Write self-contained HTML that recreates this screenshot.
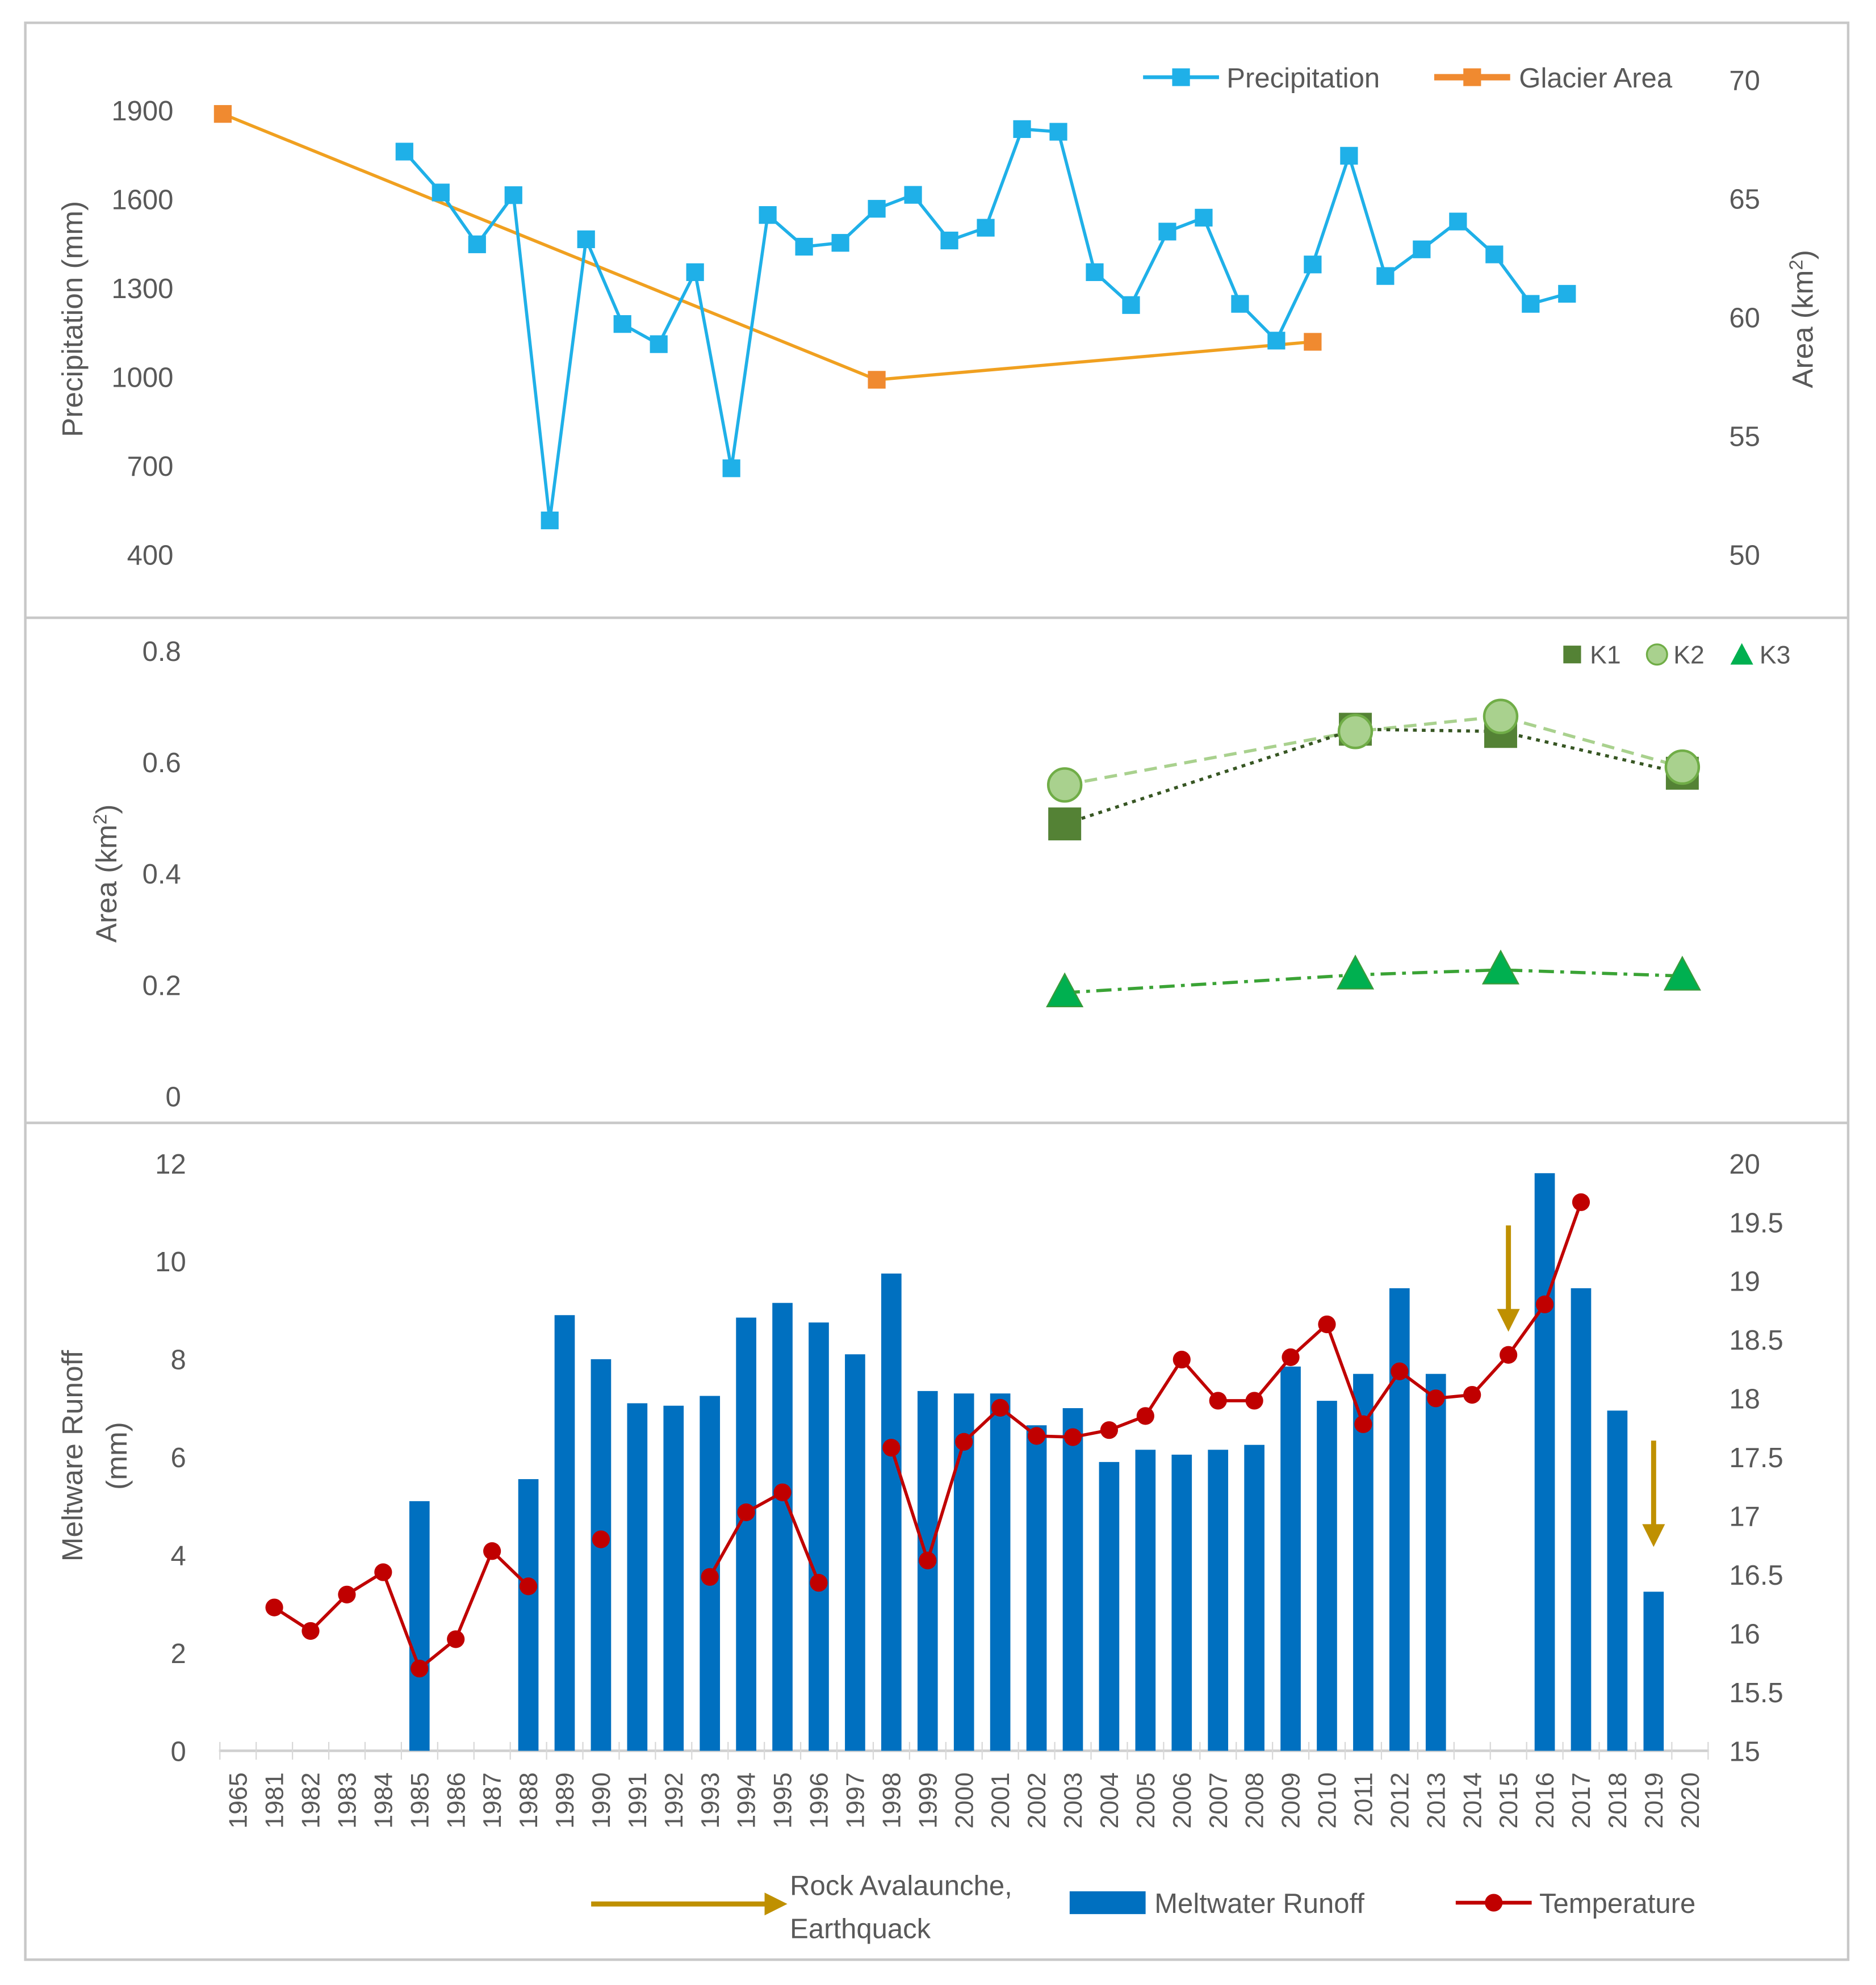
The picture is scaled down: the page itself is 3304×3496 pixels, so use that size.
<!DOCTYPE html>
<html><head><meta charset="utf-8"><style>
html,body{margin:0;padding:0;background:#fff;}
svg{display:block;font-family:"Liberation Sans",sans-serif;}
</style></head><body>
<svg id="chart" width="3304" height="3496" viewBox="0 0 1482 1568" preserveAspectRatio="none" xmlns="http://www.w3.org/2000/svg">
<rect x="20" y="18" width="1440" height="1530" fill="#fff" stroke="#c8c8c8" stroke-width="2"/>
<line x1="20" y1="488" x2="1460" y2="488" stroke="#c8c8c8" stroke-width="2"/>
<line x1="20" y1="887" x2="1460" y2="887" stroke="#c8c8c8" stroke-width="2"/>
<g id="panelTop"></g>
<g id="panelMid"></g>
<g id="panelBot"></g>
</svg>
<script>
// ---------- data ----------
const years = ['1965','1981','1982','1983','1984','1985','1986','1987','1988','1989','1990','1991','1992','1993','1994','1995','1996','1997','1998','1999','2000','2001','2002','2003','2004','2005','2006','2007','2008','2009','2010','2011','2012','2013','2014','2015','2016','2017','2018','2019','2020'];
const precipitation = [null,null,null,null,null,1760,1622,1447,1613,515,1464,1178,1110,1353,691,1546,1439,1452,1567,1614,1460,1503,1836,1827,1353,1242,1490,1537,1246,1122,1379,1746,1340,1430,1524,1413,1246,1280,null,null,null];
const glacierYears = ['1965','1998','2010'];
const glacierArea = [68.56,57.36,58.96];
const precipTicks = [400,700,1000,1300,1600,1900];
const areaTicks = [50,55,60,65,70];
const kYears = ['2003','2011','2015','2020'];
const k1 = [0.489,0.659,0.655,0.58];
const k2 = [0.559,0.655,0.682,0.591];
const k3 = [0.186,0.218,0.227,0.216];
const midTicks = [0,0.2,0.4,0.6,0.8];
const runoff = [null,null,null,null,null,5.1,null,null,5.55,8.9,8.0,7.1,7.05,7.25,8.85,9.15,8.75,8.1,9.75,7.35,7.3,7.3,6.65,7.0,5.9,6.15,6.05,6.15,6.25,7.85,7.15,7.7,9.45,7.7,null,null,11.8,9.45,6.95,3.25,null];
const temperature = [null,16.22,16.02,16.33,16.52,15.7,15.95,16.7,16.4,null,16.8,null,null,16.48,17.03,17.2,16.43,null,17.58,16.62,17.63,17.92,17.68,17.67,17.73,17.85,18.33,17.98,17.98,18.35,18.63,17.78,18.23,18.0,18.03,18.37,18.8,19.67,null,null,null];
const runoffTicks = [0,2,4,6,8,10,12];
const tempTicks = ['15','15.5','16','16.5','17','17.5','18','18.5','19','19.5','20'];
const eventYears = ['2015','2019'];

const NS='http://www.w3.org/2000/svg';
function mk(parent,tag,attrs,text){const e=document.createElementNS(NS,tag);for(const k in attrs)e.setAttribute(k,attrs[k]);if(text!==undefined)e.textContent=text;parent.appendChild(e);return e;}
const TXT='#595959';

// ---------- top panel ----------
const gTop=document.getElementById('panelTop');
const xT=i=>176+i*28.7;
const yP=v=>87+(1900-v)*(438-87)/1500;
const yA=v=>63+(70-v)*(438-63)/20;
precipTicks.forEach(t=>{const e=mk(gTop,'text',{x:137,y:yP(t)+8,'text-anchor':'end','font-size':22,fill:TXT},t);

});
areaTicks.forEach(t=>{const e=mk(gTop,'text',{x:1366,y:yA(t)+8,'font-size':22,fill:TXT},t);

});
let t1=mk(gTop,'text',{x:0,y:0,transform:'translate(65,252) rotate(-90)','text-anchor':'middle','font-size':23,fill:TXT},'Precipitation (mm)');


let t2=mk(gTop,'text',{x:0,y:0,transform:'translate(1432,252) rotate(-90)','text-anchor':'middle','font-size':23,fill:TXT},'Area (km');
mk(t2,'tspan',{dy:-8,'font-size':15},'2');
mk(t2,'tspan',{dy:8},')');


let gp=glacierYears.map((y,i)=>xT(years.indexOf(y))+','+yA(glacierArea[i])).join(' ');
let gl=mk(gTop,'polyline',{points:gp,fill:'none',stroke:'#f0a020','stroke-width':2.5});


let pp=[];precipitation.forEach((v,i)=>{if(v!==null)pp.push(xT(i)+','+yP(v));});
let pl=mk(gTop,'polyline',{points:pp.join(' '),fill:'none',stroke:'#1fb0e8','stroke-width':2.5});


precipitation.forEach((v,i)=>{if(v===null)return;const r=mk(gTop,'rect',{x:xT(i)-7,y:yP(v)-7,width:14,height:14,fill:'#1fb0e8'});

});
glacierYears.forEach((y,i)=>{const r=mk(gTop,'rect',{x:xT(years.indexOf(y))-7,y:yA(glacierArea[i])-7,width:14,height:14,fill:'#f08a30'});

});
mk(gTop,'line',{x1:903,y1:61,x2:963,y2:61,stroke:'#1fb0e8','stroke-width':3});
mk(gTop,'rect',{x:926,y:54,width:14,height:14,fill:'#1fb0e8'});
let l1=mk(gTop,'text',{x:969,y:69,'font-size':22,fill:TXT},'Precipitation');


mk(gTop,'line',{x1:1133,y1:61,x2:1193,y2:61,stroke:'#f08a30','stroke-width':5});
mk(gTop,'rect',{x:1156,y:54,width:14,height:14,fill:'#f08a30'});
let l2=mk(gTop,'text',{x:1200,y:69,'font-size':22,fill:TXT},'Glacier Area');



// ---------- middle panel ----------
const gMid=document.getElementById('panelMid');
const xM=y=>181+years.indexOf(y)*28.7;
const yM=v=>866-v*(866-514)/0.8;
midTicks.forEach(t=>{const e=mk(gMid,'text',{x:143,y:yM(t)+8,'text-anchor':'end','font-size':22,fill:TXT},t);

});
let t3=mk(gMid,'text',{x:0,y:0,transform:'translate(92,690) rotate(-90)','text-anchor':'middle','font-size':23,fill:TXT},'Area (km');
mk(t3,'tspan',{dy:-8,'font-size':15},'2');
mk(t3,'tspan',{dy:8},')');


function kline(arr,stroke,dash,name){const pts=kYears.map((y,i)=>xM(y)+','+yM(arr[i])).join(' ');
const e=mk(gMid,'polyline',{points:pts,fill:'none',stroke:stroke,'stroke-width':2.5,'stroke-dasharray':dash});

}
kline(k2,'#a9d18e','10,6','k2-line');
kline(k1,'#375623','3,4','k1-line');
kline(k3,'#3aa335','12,5,3,5','k3-line');
kYears.forEach((y,i)=>{const r=mk(gMid,'rect',{x:xM(y)-13,y:yM(k1[i])-13,width:26,height:26,fill:'#548235'});

});
kYears.forEach((y,i)=>{const c=mk(gMid,'circle',{cx:xM(y),cy:yM(k2[i]),r:13,fill:'#a9d18e',stroke:'#70ad47','stroke-width':2});

});
kYears.forEach((y,i)=>{const x=xM(y),yy=yM(k3[i]);const p=mk(gMid,'polygon',{points:`${x},${yy-15} ${x+14},${yy+11} ${x-14},${yy+11}`,fill:'#00b050',stroke:'#3a9a3a','stroke-width':1});

});
mk(gMid,'rect',{x:1235,y:510,width:14,height:14,fill:'#548235'});
let k1l=mk(gMid,'text',{x:1256,y:524,'font-size':20,fill:TXT},'K1');


mk(gMid,'circle',{cx:1309,cy:517,r:8,fill:'#a9d18e',stroke:'#70ad47','stroke-width':1.5});
let k2l=mk(gMid,'text',{x:1322,y:524,'font-size':20,fill:TXT},'K2');


mk(gMid,'polygon',{points:'1376,508 1385,525 1367,525',fill:'#00b050'});
let k3l=mk(gMid,'text',{x:1390,y:524,'font-size':20,fill:TXT},'K3');



// ---------- bottom panel ----------
const gBot=document.getElementById('panelBot');
const xB=i=>188+i*28.675;
const yR=v=>1383-v*(1383-919)/12;
const yTm=v=>1383-(v-15)*(1383-919)/5;
runoffTicks.forEach(t=>{const e=mk(gBot,'text',{x:147,y:yR(t)+8,'text-anchor':'end','font-size':22,fill:TXT},t);

});
tempTicks.forEach(t=>{const e=mk(gBot,'text',{x:1366,y:yTm(parseFloat(t))+8,'font-size':22,fill:TXT},t);

});
let t4=mk(gBot,'text',{x:0,y:0,transform:'translate(65,1150) rotate(-90)','text-anchor':'middle','font-size':23,fill:TXT},'Meltware Runoff');


let t5=mk(gBot,'text',{x:0,y:0,transform:'translate(100,1150) rotate(-90)','text-anchor':'middle','font-size':23,fill:TXT},'(mm)');


let ax=mk(gBot,'line',{x1:173,y1:1383,x2:1350,y2:1383,stroke:'#d0d0d0','stroke-width':2});


for(let i=0;i<=years.length;i++){mk(gBot,'line',{x1:xB(i)-14.3,y1:1376,x2:xB(i)-14.3,y2:1390,stroke:'#d8d8d8','stroke-width':1});}
years.forEach((y,i)=>{const e=mk(gBot,'text',{x:0,y:0,transform:`translate(${xB(i)+7},1400) rotate(-90)`,'text-anchor':'end','font-size':20,fill:TXT},y);

});
runoff.forEach((v,i)=>{if(v===null)return;const r=mk(gBot,'rect',{x:xB(i)-8,y:yR(v),width:16,height:yR(0)-yR(v),fill:'#0070c0'});

});
let seg=[];const segs=[];
temperature.forEach((v,i)=>{if(v===null){if(seg.length)segs.push(seg);seg=[];}else seg.push(xB(i)+','+yTm(v));});
if(seg.length)segs.push(seg);
segs.forEach(s=>{const e=mk(gBot,'polyline',{points:s.join(' '),fill:'none',stroke:'#c00000','stroke-width':2.5});

});
temperature.forEach((v,i)=>{if(v===null)return;const c=mk(gBot,'circle',{cx:xB(i),cy:yTm(v),r:7,fill:'#c00000'});

});
const arrowCol='#bf9000';
const arrowTops=[968,1138];
eventYears.forEach((y,k)=>{const x=xB(years.indexOf(y)),y0=arrowTops[k];
const g=mk(gBot,'g',{});


mk(g,'line',{x1:x,y1:y0,x2:x,y2:y0+70,stroke:arrowCol,'stroke-width':4});
mk(g,'polygon',{points:`${x-9},${y0+66} ${x+9},${y0+66} ${x},${y0+84}`,fill:arrowCol});});
mk(gBot,'line',{x1:467,y1:1504,x2:606,y2:1504,stroke:arrowCol,'stroke-width':4});
mk(gBot,'polygon',{points:'604,1495 622,1504 604,1513',fill:arrowCol});
let lr=mk(gBot,'text',{x:624,y:1497,'font-size':22,fill:TXT},'Rock Avalaunche,');


mk(gBot,'text',{x:624,y:1531,'font-size':22,fill:TXT},'Earthquack');
mk(gBot,'rect',{x:845,y:1494,width:60,height:18,fill:'#0070c0'});
let lm=mk(gBot,'text',{x:912,y:1511,'font-size':22,fill:TXT},'Meltwater Runoff');


mk(gBot,'line',{x1:1150,y1:1503,x2:1210,y2:1503,stroke:'#c00000','stroke-width':3});
mk(gBot,'circle',{cx:1180,cy:1503,r:7,fill:'#c00000'});
let lt=mk(gBot,'text',{x:1216,y:1511,'font-size':22,fill:TXT},'Temperature');


</script>
</body></html>
